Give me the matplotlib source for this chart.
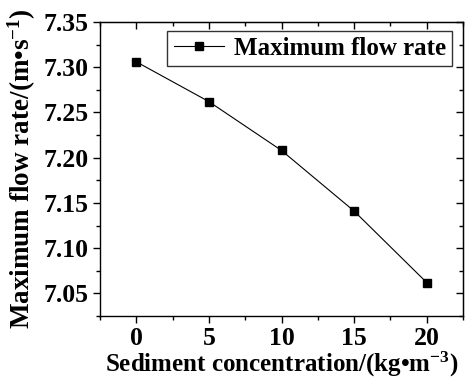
import numpy as np
import matplotlib
matplotlib.use('Agg')
import matplotlib.pyplot as plt

# Data
concentration = [0, 5, 10, 15, 20]
flow_rate = [7.306, 7.262, 7.208, 7.141, 7.062]
series_name = 'Maximum flow rate'

plt.rcParams['font.family'] = 'Liberation Serif'
plt.rcParams['font.weight'] = 'bold'
plt.rcParams['mathtext.fontset'] = 'custom'
plt.rcParams['mathtext.rm'] = 'Liberation Serif:bold'
plt.rcParams['mathtext.bf'] = 'Liberation Serif:bold'
plt.rcParams['mathtext.default'] = 'rm'

fig = plt.figure(figsize=(4.72, 3.81), dpi=100)
ax = fig.add_axes([100 / 472, 1 - 316 / 381, 363 / 472, 294 / 381])

ax.plot(concentration, flow_rate, color='black', linewidth=0.8,
        marker='s', markersize=6, label=series_name)

xticks = [0, 5, 10, 15, 20]
xminor = np.arange(-2.5, 22.6, 5)
yticks = np.arange(7.05, 7.351, 0.05)
yminor = np.arange(7.025, 7.351, 0.05)

ax.set_xlim(-2.5, 22.5)
ax.set_ylim(7.025, 7.35)
ax.set_xticks(xticks)
ax.set_xticks(xminor, minor=True)
ax.set_yticks(yticks)
ax.set_yticks(yminor, minor=True)
ax.yaxis.set_major_formatter(matplotlib.ticker.FormatStrFormatter('%.2f'))

ax.tick_params(axis='both', which='major', labelsize=18.5, length=5, width=1,
               direction='out', pad=3)
ax.tick_params(axis='both', which='minor', length=3, width=1, direction='out')

# top and right ticks point inward
top = ax.secondary_xaxis('top')
top.set_xticks(xticks)
top.set_xticks(xminor, minor=True)
top.tick_params(which='major', direction='in', length=5, width=1, labeltop=False)
top.tick_params(which='minor', direction='in', length=3, width=1)
right = ax.secondary_yaxis('right')
right.set_yticks(yticks)
right.set_yticks(yminor, minor=True)
right.tick_params(which='major', direction='in', length=5, width=1, labelright=False)
right.tick_params(which='minor', direction='in', length=3, width=1)

for s in ax.spines.values():
    s.set_linewidth(1)

ax.set_xlabel('Sediment concentration/(kg•m$^{-3}$)', fontsize=18,
              fontweight='bold', labelpad=0)
ax.set_ylabel('Maximum flow rate/(m•s$^{-1}$)', fontsize=19.5,
              fontweight='bold', labelpad=4)

leg = ax.legend(loc='upper right', fontsize=18, frameon=True, fancybox=False,
                edgecolor='black', handlelength=2.0, handletextpad=0.4,
                borderpad=0.25, borderaxespad=0, bbox_to_anchor=(0.97, 0.97))
leg.get_frame().set_linewidth(1)

fig.savefig('out.png', dpi=100)
